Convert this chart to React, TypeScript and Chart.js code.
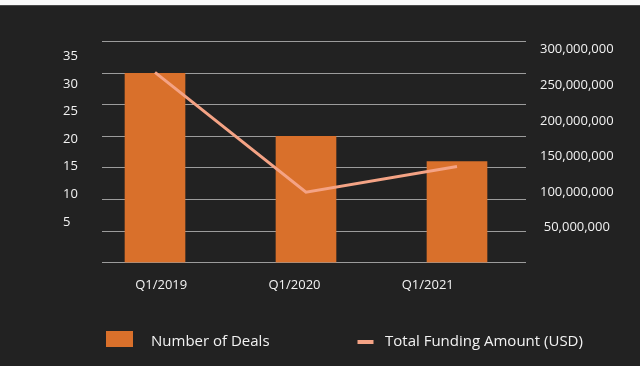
import React, { useEffect, useRef } from "react";
import { Chart, registerables } from "chart.js";

Chart.register(...registerables);

const categories = ["Q1/2019", "Q1/2020", "Q1/2021"];
const numberOfDeals = [30, 20, 16];
const totalFunding = [268000000, 100000000, 136000000];
const dealTicks = [5, 10, 15, 20, 25, 30, 35];
const fundingTicks = [50000000, 100000000, 150000000, 200000000, 250000000, 300000000];

const BAR_COLOR = "#d9702b";
const LINE_COLOR = "#f4a385";
const TEXT_COLOR = "#f2f2f2";
const GRID_COLOR = "#9c9c9c";

const legendPlugin = {
  id: "customLegend",
  afterDraw(chart: any) {
    const ctx = chart.ctx as CanvasRenderingContext2D;
    const ds = chart.data.datasets;
    ctx.save();
    ctx.font = '15px "Open Sans"';
    ctx.textBaseline = "alphabetic";
    ctx.textAlign = "left";
    // bar item
    ctx.fillStyle = ds[0].backgroundColor;
    ctx.fillRect(106, 331, 27, 16);
    ctx.fillStyle = TEXT_COLOR;
    ctx.fillText(ds[0].label, 151, 345.5);
    // line item
    ctx.strokeStyle = ds[1].borderColor;
    ctx.lineWidth = 4;
    ctx.beginPath();
    ctx.moveTo(357.5, 342);
    ctx.lineTo(373.5, 342);
    ctx.stroke();
    ctx.fillStyle = TEXT_COLOR;
    ctx.fillText(ds[1].label, 385, 345.5);
    ctx.restore();
  },
};

export default function App() {
  const ref = useRef<HTMLCanvasElement>(null);
  useEffect(() => {
    Chart.defaults.font.family = '"Open Sans"';
    const chart = new Chart(ref.current!, {
      type: "bar",
      data: {
        datasets: [
          {
            type: "bar",
            label: "Number of Deals",
            data: categories.map((_, i) => ({ x: i, y: numberOfDeals[i] })),
            backgroundColor: BAR_COLOR,
            barThickness: 60,
            xAxisID: "x",
            yAxisID: "y",
            order: 2,
          } as any,
          {
            type: "line",
            label: "Total Funding Amount (USD)",
            data: categories.map((_, i) => ({ x: i, y: totalFunding[i] })),
            borderColor: LINE_COLOR,
            backgroundColor: LINE_COLOR,
            borderWidth: 3,
            pointRadius: 0,
            tension: 0,
            xAxisID: "x",
            yAxisID: "yr",
            order: 1,
          } as any,
        ],
      },
      options: {
        responsive: false,
        animation: false,
        layout: { padding: { left: 63, top: 41.7, right: 0, bottom: 0 } },
        plugins: { legend: { display: false }, tooltip: { enabled: false } },
        scales: {
          x: {
            type: "linear",
            display: false,
            offset: false,
            min: -0.351,
            max: 2.457,
          },
          xl: {
            type: "linear",
            position: "bottom",
            offset: false,
            min: -0.444,
            max: 2.737,
            grid: { display: false, drawTicks: false, offset: false },
            border: { display: false },
            afterBuildTicks: (s: any) => {
              s.ticks = categories.map((_, i) => ({ value: i }));
            },
            afterFit: (s: any) => {
              s.height = 103.3;
            },
            ticks: {
              autoSkip: false,
              maxRotation: 0,
              padding: 15,
              color: TEXT_COLOR,
              font: { size: 13 },
              callback: (_v: any, i: number) => categories[i],
            },
          },
          y: {
            type: "linear",
            position: "left",
            min: 0,
            max: 35,
            grid: { color: GRID_COLOR, lineWidth: 1, drawTicks: false },
            border: { display: false },
            ticks: { display: false, stepSize: 5 },
            afterFit: (s: any) => {
              s.width = 0;
            },
          },
          yl: {
            type: "linear",
            position: "left",
            min: -2.36,
            max: 37.62,
            grid: { display: false, drawTicks: false },
            border: { display: false },
            afterBuildTicks: (s: any) => {
              s.ticks = dealTicks.map((v) => ({ value: v }));
            },
            afterFit: (s: any) => {
              s.width = 39;
            },
            ticks: {
              crossAlign: "far",
              padding: 0,
              color: TEXT_COLOR,
              font: { size: 13 },
              callback: (v: any) => String(v),
            },
          },
          yr: {
            type: "linear",
            position: "right",
            min: 1000000,
            max: 311000000,
            grid: { display: false, drawTicks: false },
            border: { display: false },
            afterBuildTicks: (s: any) => {
              s.ticks = fundingTicks.map((v) => ({ value: v }));
            },
            afterFit: (s: any) => {
              s.width = 114;
            },
            ticks: {
              crossAlign: "center",
              padding: 14,
              color: TEXT_COLOR,
              font: { size: 13 },
              callback: (v: any) => Number(v).toLocaleString("en-US"),
            },
          },
        } as any,
      },
      plugins: [legendPlugin],
    });
    return () => chart.destroy();
  }, []);
  return (
    <div
      style={{
        position: "absolute",
        left: 0,
        top: 0,
        width: 640,
        height: 366,
        background:
          "linear-gradient(to bottom, #fafafa 0px, #fafafa 5px, #4a4a4a 5px, #4a4a4a 6px, #222222 6px)",
      }}
    >
      <canvas ref={ref} width={640} height={366} style={{ display: "block" }} />
    </div>
  );
}
